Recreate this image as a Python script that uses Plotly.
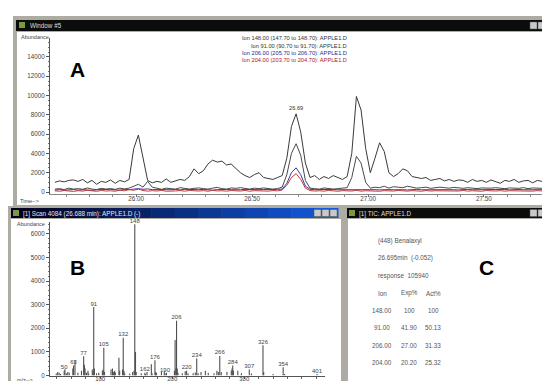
import plotly.graph_objects as go

W, H = 550, 381
FONT = "Liberation Sans, Arial, sans-serif"

# ---------------- Panel A: extracted ion chromatograms ----------------
time_start = 25.65
time_step = 0.02
ion148 = [1000, 1150, 1050, 1200, 1250, 1100, 1300, 950, 1200, 800, 1100, 1000, 1250, 900, 1200, 1050,
          1300, 4500, 5900, 3500, 1200, 950, 1100, 1000, 1350, 1000, 1150, 1300, 1200, 1600,
          2400, 1900, 2200, 2900, 3300, 3100, 3200, 2800, 2900, 2400, 2000, 1700, 1500, 1800, 2000, 1500, 1400, 1300, 1500, 1700,
          3500, 6800, 8100, 6200, 3000, 1500, 1700, 1300, 1600, 1400, 1700, 1500, 1300,
          1600, 4000, 9900, 8500, 4500, 2000, 3500, 5100, 4200, 2000,
          1600, 1900, 2400, 2200, 1600, 1500, 1400, 1500, 1200, 1300, 1400, 1150, 1300, 1100, 1250, 1200, 1000, 1300,
          1100, 1200, 1000, 1250, 1100, 900, 1200, 1100, 1300, 1000, 1150, 1200, 950, 1200, 1100]
ion91 = [300, 350, 250, 400, 300, 350, 280, 420, 300, 250, 380, 300, 350, 270, 400, 320,
         400, 600, 800, 500, 1100, 500,
         350, 280, 400, 320, 300, 450, 350, 300, 380, 420, 350, 300, 400, 480, 350, 300, 420, 380, 450, 350,
         300, 400, 350, 420, 380, 300, 350,
         500, 1800, 4000, 5000, 3800, 1200, 400,
         350, 300, 420, 380, 300, 350, 400,
         450, 1500, 3700, 3000, 1000, 400,
         500, 450, 600, 400, 550, 500, 450, 600, 500, 400, 450, 500, 380, 420, 500, 450, 400, 480, 420, 380,
         450, 400, 350, 420, 380, 400, 450, 380, 350, 420, 400, 380, 450, 350, 420, 400, 380]
ion206 = [200, 250, 180, 220, 260, 190, 240, 210, 170, 230, 250, 200, 280, 220, 190, 260, 240, 300, 350, 280,
          320, 250, 230, 270, 200, 240, 260, 220, 280, 250, 210, 240, 270, 230, 190, 250, 220, 260, 240, 200,
          230, 270, 250, 210, 240, 260, 220, 250, 280,
          300, 900, 2000, 2500, 1800, 600,
          280, 240, 260, 220, 250, 270, 230, 240, 260, 210, 250, 280, 230, 260, 240, 220, 270, 250, 230, 260,
          240, 210, 250, 270, 230, 240, 260, 220, 250, 230, 260, 240, 210, 250, 270, 230, 240, 220, 260, 250,
          230, 240, 270, 220, 250, 260, 230, 240, 250, 220, 240]
ion204 = [120, 80, 150, 100, 60, 140, 90, 180, 110, 70, 160, 100, 130, 80, 200, 120, 250, 180, 300, 150,
          90, 140, 100, 170, 80, 130, 110, 150, 90, 160, 120, 100, 140, 80, 170, 110, 130, 90, 150, 120,
          100, 160, 80, 140, 110, 130, 90, 150, 120,
          200, 700, 1500, 1900, 1300, 400,
          150, 100, 130, 90, 160, 110, 80, 140, 120, 100, 170, 90, 130, 110, 150, 80, 140, 120, 100, 160,
          110, 90, 140, 120, 80, 150, 100, 130, 110, 90, 140, 120, 100, 160, 90, 130, 110, 80, 150, 120,
          100, 140, 90, 130, 110, 160, 100, 120, 90, 140, 110]
times = [round(time_start + time_step * i, 2) for i in range(len(ion148))]

ion_legend = ["Ion 148.00 (147.70 to 148.70): APPLE1.D",
              "Ion 91.00 (90.70 to 91.70): APPLE1.D",
              "Ion 206.00 (205.70 to 206.70): APPLE1.D",
              "Ion 204.00 (203.70 to 204.70): APPLE1.D"]
peak_time = 26.69
peak_label = "26.69"
a_yticks = [0, 2000, 4000, 6000, 8000, 10000, 12000, 14000]
a_xticks = [26.00, 26.50, 27.00, 27.50]

# ---------------- Panel B: mass spectrum ----------------
spec_mz = [39, 41, 43, 45, 50, 51, 53, 55, 57, 62, 63, 65, 69, 74, 77, 78, 79, 81, 83, 84, 89, 90, 91, 92, 95, 98,
           103, 104, 105, 106, 115, 117, 118, 119, 120, 121, 126, 127, 131, 132, 133, 134, 141, 145, 147, 148, 149,
           150, 157, 162, 163, 165, 171, 172, 176, 177, 178, 185, 189, 190, 192, 203, 204, 205, 206, 207, 208, 214,
           218, 220, 222, 229, 232, 234, 236, 240, 246, 250, 258, 262, 264, 266, 268, 276, 282, 283, 284, 285, 291,
           296, 307, 310, 326, 327, 340, 354, 356, 401]
spec_ab = [80, 150, 120, 60, 200, 260, 90, 150, 120, 300, 420, 650, 120, 200, 820, 450, 300, 120, 200, 80, 250, 200,
           2900, 300, 100, 120, 200, 250, 1180, 150, 250, 300, 150, 150, 200, 130, 750, 200, 250, 1600, 200, 100, 80,
           150, 200, 6400, 1000, 150, 100, 120, 60, 150, 480, 100, 650, 150, 120, 150, 170, 100, 120, 200, 1500, 300,
           2320, 300, 120, 100, 180, 200, 80, 100, 130, 720, 100, 150, 200, 120, 100, 200, 150, 830, 150, 150, 200,
           300, 420, 200, 200, 100, 250, 80, 1280, 150, 60, 350, 60, 60]
spec_labels = [50, 63, 77, 91, 105, 132, 148, 162, 176, 190, 206, 220, 234, 266, 284, 307, 326, 354, 401]
b_yticks = [0, 1000, 2000, 3000, 4000, 5000, 6000]
b_xticks = [100, 200, 300]

# ---------------- Panel C: compound report ----------------
c_header = ["(448) Benalaxyl", "26.695min  (-0.052)", "response  105940"]
c_cols = ["Ion", "Exp%", "Act%"]
c_ion = ["148.00", "91.00", "206.00", "204.00"]
c_exp = ["100", "41.90", "27.00", "20.20"]
c_act = ["100", "50.13", "31.33", "25.32"]


# ---------------- helpers (pixel -> paper) ----------------
def px(x):
    return x / W


def py(y):
    return 1 - y / H


def rect(x0, y0, x1, y1, fill, lc=None, lw=0):
    return dict(type="rect", xref="paper", yref="paper", x0=px(x0), x1=px(x1), y0=py(y1), y1=py(y0),
                fillcolor=fill, line=dict(width=lw, color=lc or fill), layer="below")


def text(x, y, s, size=6.3, color="#444", xanchor="left", bold=False):
    return dict(xref="paper", yref="paper", x=px(x), y=py(y), text=("<b>%s</b>" % s) if bold else s,
                showarrow=False, xanchor=xanchor, yanchor="middle",
                font=dict(family=FONT, size=size, color=color))


fig = go.Figure()

# chromatogram traces
colors_a = ["#3a3a3a", "#4a4a4a", "#3a3aa8", "#c23a3a"]
for series, col in zip([ion148, ion91, ion206, ion204], colors_a):
    fig.add_trace(go.Scatter(x=times, y=series, mode="lines", line=dict(color=col, width=1),
                             xaxis="x", yaxis="y", hoverinfo="skip"))

# spectrum sticks
sx, sy = [], []
for m, a in zip(spec_mz, spec_ab):
    sx += [m, m, None]
    sy += [0, a, None]
fig.add_trace(go.Scatter(x=sx, y=sy, mode="lines", line=dict(color="#505050", width=1.1),
                         xaxis="x2", yaxis="y2", hoverinfo="skip"))
lab_y = [spec_ab[spec_mz.index(m)] for m in spec_labels]
fig.add_trace(go.Scatter(x=spec_labels, y=lab_y, mode="text", text=[str(m) for m in spec_labels],
                         textposition="top center", textfont=dict(family=FONT, size=6, color="#444"),
                         xaxis="x2", yaxis="y2", cliponaxis=False, hoverinfo="skip"))

shapes = []
# window A
shapes.append(rect(5, 8, 550, 199, "#aeaba3"))
shapes.append(rect(8, 12, 547, 23, "#0c0c0c"))
shapes.append(rect(9, 24, 546, 197, "white"))
# window B
shapes.append(rect(0, 198, 336, 381, "#aeaba3"))
n = 14
for k in range(n):
    f = k / (n - 1)
    r, g, b = int(0 + 20 * f), int(0 + 90 * f), int(30 + 190 * f)
    x0 = 3 + (330 - 3) * k / n
    x1 = 3 + (330 - 3) * (k + 1) / n
    shapes.append(rect(x0, 200, x1 + 0.5, 210, "rgb(%d,%d,%d)" % (r, g, b)))
shapes.append(rect(3, 211, 333, 381, "white"))
# window C
shapes.append(rect(336, 198, 550, 381, "#aeaba3"))
shapes.append(rect(339, 200, 548, 210, "#0c0c0c"))
shapes.append(rect(340, 211, 547, 379, "white"))
# title-bar buttons and icons
for bx, by in [(522, 14), (306, 201.5), (522, 201.5)]:
    for j in range(3):
        shapes.append(rect(bx + 8 * j, by, bx + 8 * j + 7, by + 7, "#c9c9c9", "#555", 0.5))
for ix, iy in [(11, 14), (5, 202), (341, 202)]:
    shapes.append(rect(ix, iy, ix + 6, iy + 6, "#7a9a40"))

ann = []
# title bars
ann.append(text(20, 17.5, "Window #5", 6.3, "#dddddd"))
ann.append(text(13, 205.5, "[1] Scan 4084 (26.688 min): APPLE1.D (-)", 6.3, "#e6e6e6"))
ann.append(text(349, 205.5, "[1] TIC: APPLE1.D", 6.3, "#dddddd"))
# axis captions
ann.append(text(11, 29, "Abundance", 5.5, "#444"))
ann.append(text(10, 192.5, "Time-->", 5.5, "#444"))
ann.append(text(7, 216, "Abundance", 5.5, "#444"))
ann.append(text(7, 372, "m/z-->", 5.5, "#444"))
# legend of ions
leg_cols = ["#333333", "#333333", "#2a2a90", "#b02020"]
for k, (s, c) in enumerate(zip(ion_legend, leg_cols)):
    ann.append(text(341, 30 + 7.5 * k, s, 5.7, c, xanchor="right"))
# peak label
pk = times.index(peak_time)
ann.append(dict(xref="x", yref="y", x=peak_time, y=ion148[pk], text=peak_label, showarrow=False,
                yanchor="bottom", yshift=1, font=dict(family=FONT, size=5.7, color="#333")))
# big panel letters
ann.append(text(70, 61, "A", 21, "black", "center", True))
ann.append(text(70, 259, "B", 21, "black", "center", True))
ann.append(text(479, 259, "C", 21, "black", "center", True))
# panel C report
for k, s in enumerate(c_header):
    ann.append(text(368, 233 + 17.3 * k, s, 6.3, "#555"))
col_x = [374, 401, 425]
rows = [c_cols] + [list(r) for r in zip(c_ion, c_exp, c_act)]
for r, row in enumerate(rows):
    for cx, s in zip(col_x, row):
        ann.append(text(cx, 285 + 17.4 * r, s, 6.3, "#555", "center"))

axis_font = dict(family=FONT, size=6.3, color="#444")
fig.update_layout(
    width=W, height=H, margin=dict(l=0, r=0, t=0, b=0, pad=0, autoexpand=False),
    paper_bgcolor="white", plot_bgcolor="rgba(0,0,0,0)", showlegend=False, hovermode=False,
    shapes=shapes, annotations=ann,
    xaxis=dict(domain=[px(42), px(540)], range=[25.629, 27.776], anchor="y", automargin=False,
               tickvals=a_xticks, ticktext=["%.2f" % v for v in a_xticks],
               ticks="outside", ticklen=2, tickcolor="#666", tickfont=axis_font, ticklabelstandoff=-4,
               showline=True, linecolor="#888", linewidth=1, showgrid=False, zeroline=False,
               minor=dict(ticks="outside", ticklen=1.5, dtick=0.1, tickcolor="#888")),
    yaxis=dict(domain=[py(186), py(30)], range=[-207, 15955], anchor="x", automargin=False,
               tickvals=a_yticks, ticktext=[str(v) for v in a_yticks],
               ticks="outside", ticklen=3, tickcolor="#555", tickfont=axis_font,
               showline=True, linecolor="#555", linewidth=1, showgrid=False, zeroline=False,
               minor=dict(ticks="outside", ticklen=1.5, dtick=500, tickcolor="#777")),
    xaxis2=dict(domain=[px(42), px(317)], range=[30.3, 412.1], anchor="y2", automargin=False,
                tickvals=b_xticks, ticktext=[str(v) for v in b_xticks],
                ticks="outside", ticklen=2, tickcolor="#555", tickfont=dict(family=FONT, size=6, color="#444"),
                ticklabelstandoff=-5,
                showline=True, linecolor="#555", linewidth=1, showgrid=False, zeroline=False,
                minor=dict(ticks="outside", ticklen=2, dtick=20, tickcolor="#666")),
    yaxis2=dict(domain=[py(367.5), py(214)], range=[0, 6500], anchor="x2", automargin=False,
                tickvals=b_yticks, ticktext=[str(v) for v in b_yticks],
                ticks="outside", ticklen=3, tickcolor="#555", tickfont=axis_font,
                showline=True, linecolor="#555", linewidth=1, showgrid=False, zeroline=False,
                minor=dict(ticks="outside", ticklen=1.5, dtick=200, tickcolor="#777")),
)

fig.write_html("out.html")
